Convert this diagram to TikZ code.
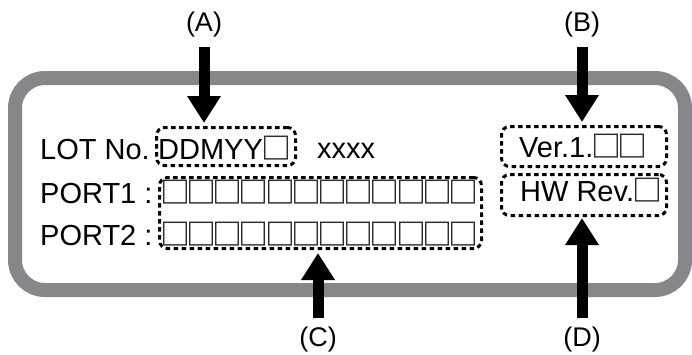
\documentclass[tikz,border=0pt]{standalone}
\usepackage{fontspec}
\setmainfont{Liberation Sans}
\newfontfamily\cjk{Noto Sans CJK JP}
\usetikzlibrary{arrows.meta}
\definecolor{framegray}{RGB}{135,135,139}
\definecolor{sqgray}{RGB}{45,45,45}
\newcommand{\sq}{\makebox[26.2pt][c]{\cjk\bfseries\fontsize{30}{30}\selectfont\color{sqgray}□}}
\begin{document}
\begin{tikzpicture}[x=1pt,y=-1pt,
  lbl/.style={font=\fontsize{29}{29}\selectfont, inner sep=0pt, anchor=base west},
  dbox/.style={draw, line width=3pt, dash pattern=on 4.5pt off 3.5pt, rounded corners=8pt, inner sep=0pt},
  bigarrow/.style={line width=11pt, -{Triangle[width=32pt,length=27pt]}},
  tag/.style={font=\fontsize{27}{27}\selectfont, inner xsep=0pt, inner ysep=9pt}]
\useasboundingbox (0,0) rectangle (692,354);
\draw[framegray, line width=14pt, rounded corners=30pt] (15,78) rectangle (685,290);
% dotted boxes
\node[dbox, minimum width=139pt, minimum height=38pt] (boxA) at (226,146.5) {};
\node[dbox, minimum width=322pt, minimum height=71pt] (boxC) at (320.5,213) {};
\node[dbox, minimum width=165pt, minimum height=40pt] (boxB) at (584,146.5) {};
\node[dbox, minimum width=165pt, minimum height=41pt] (boxD) at (584,195) {};
% texts
\node[lbl] (lot) at (40,159) {LOT No.};
\node[lbl] (date) at (158,159) {DDMYY\sq};
\node[lbl] (xx) at (317,158) {xxxx};
\node[lbl] (p1) at (40,203) {PORT1 :};
\node[lbl] (p1s) at (161.9,203) {\sq\sq\sq\sq\sq\sq\sq\sq\sq\sq\sq\sq};
\node[lbl] (p2) at (40,245) {PORT2 :};
\node[lbl] (p2s) at (161.9,245) {\sq\sq\sq\sq\sq\sq\sq\sq\sq\sq\sq\sq};
\node[lbl] (ver) at (519,157) {Ver.1.\sq\sq};
\node[lbl] (hw) at (520,201) {HW Rev.\sq};
% tags
\node[tag] (labA) at (204,25) {(A)};
\node[tag] (labB) at (582,25) {(B)};
\node[tag] (labC) at (318,340) {(C)};
\node[tag] (labD) at (582,340) {(D)};
% arrows
\draw[bigarrow, shorten >=3pt] (labA.south) -- (labA.south |- boxA.north);
\draw[bigarrow, shorten >=3pt] (labB.south) -- (labB.south |- boxB.north);
\draw[bigarrow, shorten >=3pt] (labC.north) -- (labC.north |- boxC.south);
\draw[bigarrow, shorten >=1pt] (labD.north) -- (labD.north |- boxD.south);
\end{tikzpicture}
\end{document}
